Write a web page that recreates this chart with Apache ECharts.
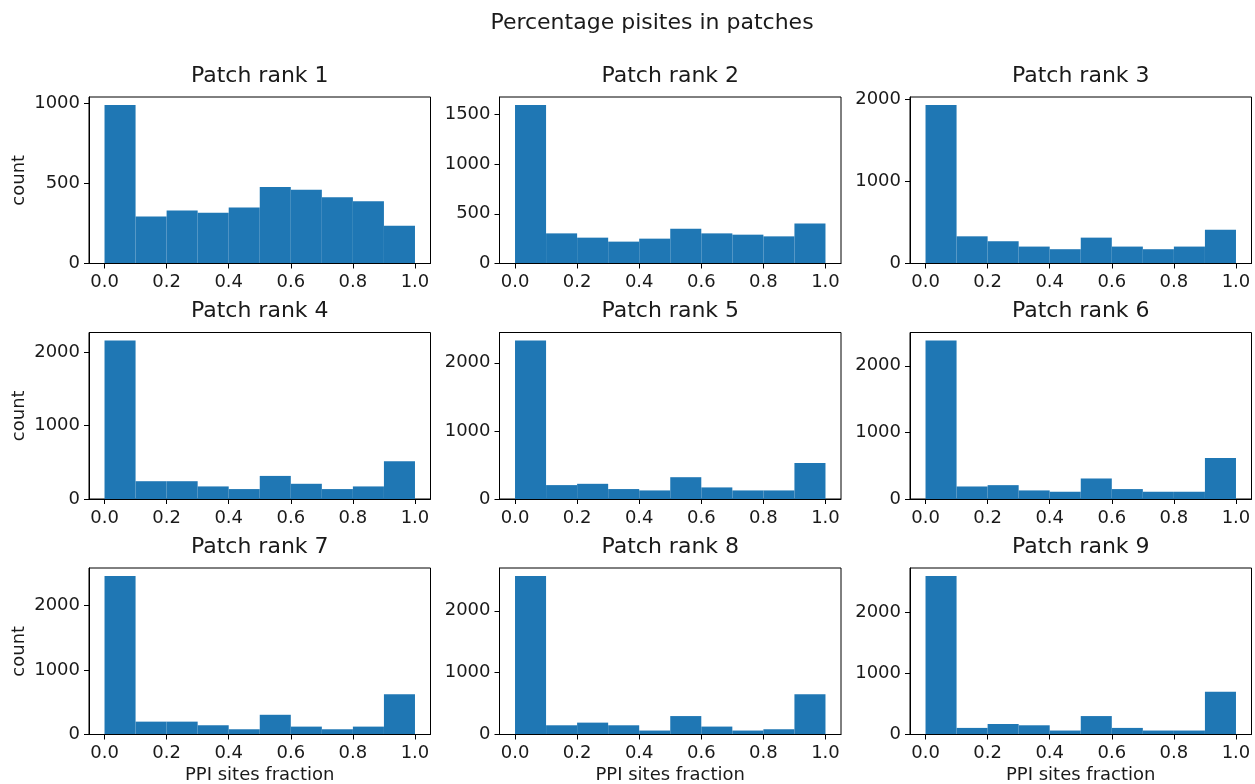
<!DOCTYPE html>
<html>
<head>
<meta charset="utf-8">
<script src="https://cdn.jsdelivr.net/npm/echarts@6/dist/echarts.min.js"></script>
<style>
  html, body { margin: 0; padding: 0; background: #ffffff; }
  #chart { width: 1255px; height: 784px; }
</style>
</head>
<body>
<div id="chart"></div>
<script>
// Histogram data: counts per bin of the PPI-site fraction, one array per patch rank
const figureTitle = 'Percentage pisites in patches';
const panelTitles = ['Patch rank 1', 'Patch rank 2', 'Patch rank 3',
                     'Patch rank 4', 'Patch rank 5', 'Patch rank 6',
                     'Patch rank 7', 'Patch rank 8', 'Patch rank 9'];
const binEdges = [0.0, 0.1, 0.2, 0.3, 0.4, 0.5, 0.6, 0.7, 0.8, 0.9, 1.0];

const rank1 = [992, 294, 331, 317, 350, 478, 462, 414, 389, 236];
const rank2 = [1595, 303, 260, 220, 250, 350, 303, 290, 273, 403];
const rank3 = [1931, 331, 271, 206, 174, 315, 206, 174, 206, 412];
const rank4 = [2157, 242, 242, 171, 135, 314, 207, 135, 171, 512];
const rank5 = [2328, 204, 223, 146, 126, 320, 170, 126, 126, 529];
const rank6 = [2381, 188, 208, 129, 109, 308, 149, 109, 109, 615];
const rank7 = [2453, 199, 199, 143, 81, 305, 122, 81, 122, 621];
const rank8 = [2564, 149, 192, 149, 64, 298, 128, 64, 85, 649];
const rank9 = [2598, 108, 172, 151, 65, 302, 108, 65, 65, 701];
const panelCounts = [rank1, rank2, rank3, rank4, rank5, rank6, rank7, rank8, rank9];

const xTicks = [0.0, 0.2, 0.4, 0.6, 0.8, 1.0];
const yTicksA = [0, 500, 1000];
const yTicksB = [0, 500, 1000, 1500];
const yTicksC = [0, 1000, 2000];
const panelYTicks = [yTicksA, yTicksB, yTicksC, yTicksC, yTicksC, yTicksC, yTicksC, yTicksC, yTicksC];

const xLabel = 'PPI sites fraction';
const yLabel = 'count';

// Layout of the 3 x 3 panel grid (pixels)
const colLeft = [89, 499.5, 910];
const rowTop = [97, 332.5, 568];
const plotW = 341.5;
const plotH = 166.5;

const FONT = '"DejaVu Sans", "Liberation Sans", sans-serif';
const TEXT = '#1a1a1a';
const BAR = '#1f77b4';
const TICK_SIZE = 18;
const TITLE_SIZE = 22;

const grids = [], xAxes = [], yAxes = [], series = [], graphics = [];

panelCounts.forEach(function (counts, i) {
  const row = Math.floor(i / 3), col = i % 3;
  const left = colLeft[col], top = rowTop[row];

  grids.push({
    left: left, top: top, width: plotW, height: plotH,
    show: true, borderColor: '#000', borderWidth: 1, backgroundColor: 'transparent'
  });

  const axisCommon = {
    splitLine: { show: false },
    axisLine: { show: true, onZero: false, lineStyle: { color: '#000', width: 1 } },
    axisTick: { show: true, length: 5, inside: false, lineStyle: { color: '#000', width: 1 } },
    z: 5
  };

  xAxes.push(Object.assign({}, axisCommon, {
    type: 'value', gridIndex: i, min: -0.05, max: 1.05,
    axisTick: Object.assign({}, axisCommon.axisTick, { customValues: xTicks }),
    axisLabel: {
      customValues: xTicks, fontSize: TICK_SIZE, fontFamily: FONT, color: TEXT, margin: 10,
      formatter: function (v) { return v.toFixed(1); }
    }
  }));

  // matplotlib-style autoscale: 5% headroom above the tallest bar
  const yMax = Math.max.apply(null, counts) * 1.05;
  yAxes.push(Object.assign({}, axisCommon, {
    type: 'value', gridIndex: i, min: 0, max: yMax,
    axisTick: Object.assign({}, axisCommon.axisTick, { customValues: panelYTicks[i] }),
    axisLabel: {
      customValues: panelYTicks[i], fontSize: TICK_SIZE, fontFamily: FONT, color: TEXT, margin: 9,
      formatter: function (v) { return String(v); }
    }
  }));

  const data = counts.map(function (c, k) { return [binEdges[k], binEdges[k + 1], c]; });
  series.push({
    type: 'custom', xAxisIndex: i, yAxisIndex: i, z: 2,
    data: data,
    encode: { x: [0, 1], y: 2 },
    renderItem: function (params, api) {
      const p0 = api.coord([api.value(0), api.value(2)]);
      const p1 = api.coord([api.value(1), 0]);
      return {
        type: 'rect',
        shape: { x: p0[0], y: p0[1], width: p1[0] - p0[0], height: p1[1] - p0[1] },
        style: { fill: BAR }
      };
    }
  });

  // panel title
  graphics.push({
    type: 'text', x: left + plotW / 2, y: top - 21,
    style: {
      text: panelTitles[i], font: TITLE_SIZE + 'px ' + FONT, fill: TEXT,
      align: 'center', verticalAlign: 'middle', textAlign: 'center', textVerticalAlign: 'middle'
    }
  });

  if (col === 0) {
    graphics.push({
      type: 'text', x: 19.5, y: top + plotH / 2, rotation: Math.PI / 2,
      style: {
        text: yLabel, font: TICK_SIZE + 'px ' + FONT, fill: TEXT,
        align: 'center', verticalAlign: 'middle', textAlign: 'center', textVerticalAlign: 'middle'
      }
    });
  }
  if (row === 2) {
    graphics.push({
      type: 'text', x: left + plotW / 2, y: top + plotH + 41,
      style: {
        text: xLabel, font: TICK_SIZE + 'px ' + FONT, fill: TEXT,
        align: 'center', verticalAlign: 'middle', textAlign: 'center', textVerticalAlign: 'middle'
      }
    });
  }
});

graphics.push({
  type: 'text', x: 652, y: 23,
  style: {
    text: figureTitle, font: TITLE_SIZE + 'px ' + FONT, fill: TEXT,
    align: 'center', verticalAlign: 'middle', textAlign: 'center', textVerticalAlign: 'middle'
  }
});

const chart = echarts.init(document.getElementById('chart'), null, { renderer: 'canvas' });
chart.setOption({
  animation: false,
  backgroundColor: '#ffffff',
  grid: grids,
  xAxis: xAxes,
  yAxis: yAxes,
  series: series,
  graphic: graphics
});
</script>
</body>
</html>
